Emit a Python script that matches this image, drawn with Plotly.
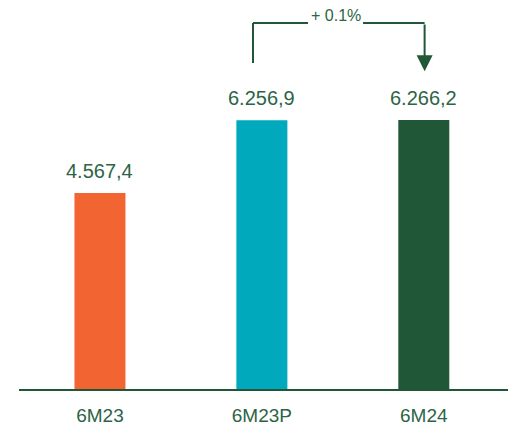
import plotly.graph_objects as go

# Half-year figures
categories = ["6M23", "6M23P", "6M24"]
values = [4567.4, 6256.9, 6266.2]
bar_colors = ["#F26532", "#00A9BC", "#1F5737"]
change_label = "+ 0.1%"

TEXT = "#2D6446"
LINE = "#1F5737"
FONT = "Liberation Sans, Arial, sans-serif"

y_max = 9060

fig = go.Figure()
fig.add_trace(go.Bar(
    x=categories,
    y=values,
    marker=dict(color=bar_colors, line=dict(width=0)),
    width=0.315,
    hoverinfo="skip",
))

# Value labels above each bar
for cat, val in zip(categories, values):
    fig.add_annotation(
        x=cat, y=val, xref="x", yref="y",
        text=f"{val:,.1f}".replace(",", "X").replace(".", ",").replace("X", "."),
        showarrow=False, yanchor="bottom", yshift=9,
        font=dict(size=20, color=TEXT, family=FONT),
    )

# Bracket linking the comparable period to the current one
y_top = y_max * 0.941
y_left = y_max * 0.838
x_left, x_right = 0.945, 2.005
x_gap_l, x_gap_r = 1.285, 1.625
fig.add_shape(type="line", x0=x_left, x1=x_left, y0=y_left, y1=y_top,
              xref="x", yref="y", line=dict(color=LINE, width=2))
fig.add_shape(type="line", x0=x_left, x1=x_gap_l, y0=y_top, y1=y_top,
              xref="x", yref="y", line=dict(color=LINE, width=2))
fig.add_shape(type="line", x0=x_gap_r, x1=x_right, y0=y_top, y1=y_top,
              xref="x", yref="y", line=dict(color=LINE, width=2))
fig.add_annotation(x=x_right, y=y_max * 0.817, ax=x_right, ay=y_top,
                   xref="x", yref="y", axref="x", ayref="y",
                   showarrow=True, arrowhead=2, arrowsize=1.6, arrowwidth=2,
                   arrowcolor=LINE, text="")
fig.add_annotation(x=(x_gap_l + x_gap_r) / 2, y=y_max * 0.961,
                   xref="x", yref="y", text=change_label, showarrow=False,
                   font=dict(size=16, color=TEXT, family=FONT))

fig.update_layout(
    width=508, height=429,
    margin=dict(l=19, r=0, t=0, b=40),
    paper_bgcolor="white", plot_bgcolor="white",
    showlegend=False,
    xaxis=dict(
        range=[-0.5, 2.52],
        showline=True, linecolor=LINE, linewidth=1.5,
        showgrid=False, zeroline=False, ticks="",
        ticklabelstandoff=8,
        tickfont=dict(size=19, color=TEXT, family=FONT),
    ),
    yaxis=dict(range=[0, y_max], visible=False, showgrid=False, zeroline=False),
)

fig.write_html("out.html")
